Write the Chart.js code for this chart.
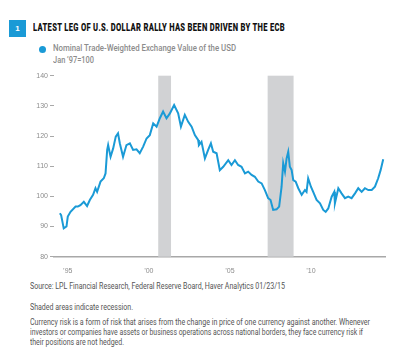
<!DOCTYPE html>
<html>
<head>
<meta charset="utf-8">
<script src="https://cdn.jsdelivr.net/npm/chart.js@4.4.1/dist/chart.umd.min.js"></script>
<style>
  body { margin: 0; background: #fff; width: 400px; height: 359px; overflow: hidden; position: relative; font-family: Roboto, 'Liberation Sans', sans-serif; }
  .abs { position: absolute; white-space: nowrap; transform-origin: 0 0; }
  #badge { left: 9px; top: 20px; width: 17px; height: 17px; background: #1a9ad6; color: #fff; font: bold 8px 'Liberation Sans', sans-serif; text-align: center; line-height: 17px; }
  #title { left: 33px; top: 22px; font-weight: 900; font-size: 10px; letter-spacing: 0.4px; color: #111; font-family: Roboto, 'Liberation Sans', sans-serif; }
  #legDot { left: 39px; top: 46px; width: 7px; height: 7px; border-radius: 50%; background: #1a9ad6; }
  .leg { left: 53px; font-size: 9px; font-weight: 500; color: #8c8c8c; }
  .foot { left: 30px; font-size: 8.2px; color: #555; }
  #wrap { position: absolute; left: 0; top: 65px; width: 400px; height: 215px; }
</style>
</head>
<body>
<div id="badge" class="abs">1</div>
<div id="title" class="abs fit" data-w="252">LATEST LEG OF U.S. DOLLAR RALLY HAS BEEN DRIVEN BY THE ECB</div>
<div id="legDot" class="abs"></div>
<div class="abs leg fit" data-w="183" style="top:43px">Nominal Trade-Weighted Exchange Value of the USD</div>
<div class="abs leg fit" data-w="41" style="top:55px">Jan ’97=100</div>
<div id="wrap"><canvas id="chart"></canvas></div>
<div class="abs foot fit" data-w="255" style="top:281px">Source: LPL Financial Research, Federal Reserve Board, Haver Analytics 01/23/15</div>
<div class="abs foot fit" data-w="103" style="top:302px">Shaded areas indicate recession.</div>
<div class="abs foot fit" data-w="340" style="top:317px">Currency risk is a form of risk that arises from the change in price of one currency against another. Whenever</div>
<div class="abs foot fit" data-w="333" style="top:327px">investors or companies have assets or business operations across national borders, they face currency risk if</div>
<div class="abs foot fit" data-w="94" style="top:337px">their positions are not hedged.</div>
<script>
// datos (año decimal, índice)
const dates = [
  1995.01, 1995.09, 1995.25, 1995.42, 1995.50, 1995.67, 1995.98, 1996.12, 1996.28, 1996.49,
  1996.69, 1996.86, 1997.06, 1997.21, 1997.31, 1997.52, 1997.72, 1997.83, 1997.93, 1997.99,
  1998.14, 1998.30, 1998.46, 1998.60, 1998.71, 1998.91, 1999.12, 1999.33, 1999.53, 1999.74,
  1999.94, 2000.15, 2000.36, 2000.56, 2000.77, 2000.98, 2001.18, 2001.38, 2001.59, 2001.80,
  2002.06, 2002.31, 2002.48, 2002.72, 2002.93, 2003.14, 2003.34, 2003.54, 2003.59, 2003.75,
  2003.96, 2004.16, 2004.33, 2004.47, 2004.68, 2004.88, 2005.09, 2005.40, 2005.60, 2005.81,
  2006.01, 2006.22, 2006.43, 2006.63, 2006.84, 2007.04, 2007.25, 2007.46, 2007.66, 2007.86,
  2008.01, 2008.17, 2008.38, 2008.54, 2008.69, 2008.79, 2008.90, 2009.00, 2009.10, 2009.20,
  2009.31, 2009.41, 2009.56, 2009.72, 2009.93, 2010.13, 2010.23, 2010.33, 2010.50, 2010.64,
  2010.85, 2011.06, 2011.26, 2011.41, 2011.57, 2011.78, 2011.94, 2011.98, 2012.19, 2012.39,
  2012.60, 2012.80, 2013.01, 2013.22, 2013.42, 2013.63, 2013.83, 2014.04, 2014.25, 2014.45,
  2014.65, 2014.80, 2014.96
];
const usdIndex = [
  94.4, 93.8, 89.4, 90.0, 93.3, 94.9, 96.6, 96.6, 97.1, 98.2,
  96.8, 98.8, 100.5, 102.7, 101.5, 104.9, 106.0, 107.6, 115.4, 117.0,
  113.1, 115.9, 119.8, 120.9, 117.6, 113.1, 117.0, 117.6, 115.4, 115.6,
  114.3, 116.5, 119.2, 120.3, 124.2, 123.1, 125.9, 128.1, 125.9, 127.5,
  130.3, 127.5, 123.1, 127.0, 124.7, 123.1, 120.3, 118.7, 117.0, 118.1,
  112.6, 115.4, 117.6, 114.8, 114.3, 108.7, 109.8, 112.0, 110.4, 112.0,
  110.4, 109.8, 107.6, 108.2, 107.1, 106.5, 104.9, 104.3, 102.1, 99.4,
  98.8, 95.5, 95.7, 96.6, 103.2, 111.0, 108.2, 112.6, 114.8, 109.8,
  108.7, 105.4, 104.9, 102.7, 100.5, 102.1, 101.5, 106.0, 103.2, 101.5,
  98.8, 97.7, 95.5, 94.9, 96.0, 99.9, 101.5, 97.7, 102.7, 101.0,
  99.4, 99.9, 99.4, 101.0, 102.7, 101.5, 102.7, 102.1, 102.1, 103.2,
  106.0, 108.7, 112.3
];
// recesiones (inicio, fin)
const recessionStart = [2001.08, 2007.83];
const recessionEnd = [2001.87, 2009.43];
// etiquetas del eje x
const tickYears = [1995.5, 2000.5, 2005.5, 2010.5];
const tickLabels = ['’95', '’00', '’05', '’10'];

// ajustar el ancho de los textos al original
document.querySelectorAll('.fit').forEach(el => {
  const w = el.getBoundingClientRect().width;
  el.style.transform = 'scaleX(' + (Number(el.dataset.w) / w) + ')';
});

const recessionShading = {
  id: 'recessionShading',
  beforeDatasetsDraw(chart) {
    const { ctx, chartArea, scales } = chart;
    ctx.save();
    ctx.fillStyle = '#d1d2d4';
    recessionStart.forEach((s, i) => {
      const x0 = scales.x.getPixelForValue(s);
      const x1 = scales.x.getPixelForValue(recessionEnd[i]);
      ctx.fillRect(x0, chartArea.top, x1 - x0, chartArea.bottom - chartArea.top);
    });
    ctx.restore();
  }
};

new Chart(document.getElementById('chart'), {
  type: 'line',
  data: {
    datasets: [{
      data: dates.map((d, i) => ({ x: d, y: usdIndex[i] })),
      borderColor: '#1a9ad6',
      borderWidth: 2,
      pointRadius: 0,
      tension: 0
    }]
  },
  options: {
    responsive: true,
    maintainAspectRatio: false,
    animation: false,
    layout: { padding: { top: 10.7, right: 15, left: 0, bottom: 0 } },
    plugins: { legend: { display: false }, tooltip: { enabled: false } },
    scales: {
      x: {
        type: 'linear',
        min: 1994.65,
        max: 2015.07,
        afterBuildTicks(scale) { scale.ticks = tickYears.map(v => ({ value: v })); },
        afterFit(scale) { scale.height = 23.3; },
        grid: { display: false, drawTicks: false },
        border: { display: true, color: '#a8a8a8', width: 1.5 },
        ticks: {
          padding: 10,
          color: '#8c8c8c',
          font: { family: 'Liberation Sans', size: 7 },
          maxRotation: 0,
          autoSkip: false,
          callback: (v) => tickLabels[tickYears.indexOf(v)]
        }
      },
      y: {
        min: 80,
        max: 140,
        afterFit(scale) { scale.width = 54; },
        grid: { drawOnChartArea: false, drawTicks: true, tickLength: 4, color: '#a8a8a8' },
        border: { display: false },
        ticks: {
          stepSize: 10,
          padding: 2,
          color: '#8c8c8c',
          font: { family: 'Liberation Sans', size: 7 }
        }
      }
    }
  },
  plugins: [recessionShading]
});
</script>
</body>
</html>
